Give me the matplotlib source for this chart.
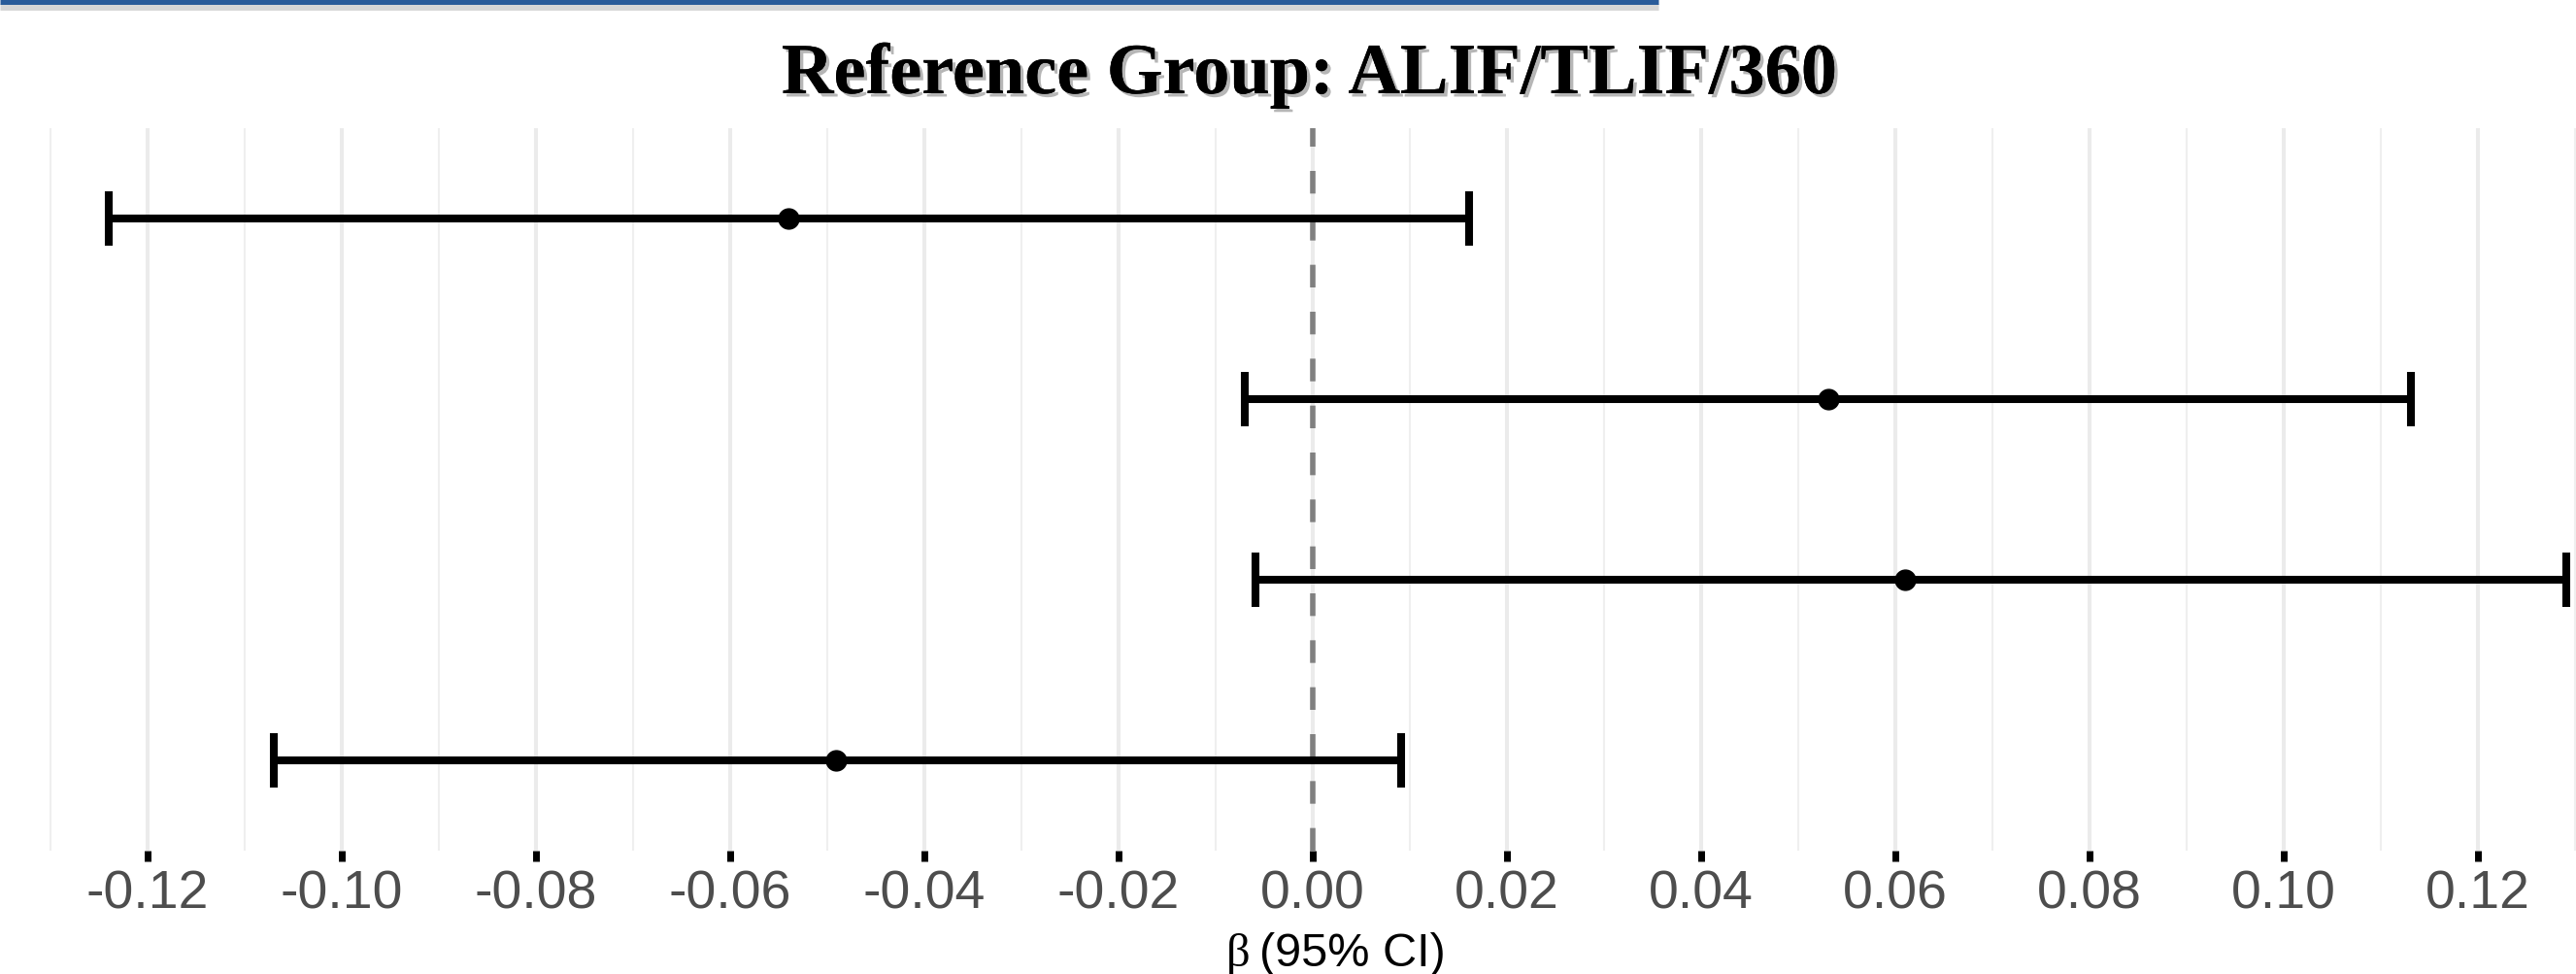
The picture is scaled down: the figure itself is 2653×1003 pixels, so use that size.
import matplotlib
matplotlib.use("Agg")
import matplotlib.pyplot as plt
import matplotlib.patheffects as pe
from matplotlib.lines import Line2D
import numpy as np

plt.rcParams['axes.unicode_minus'] = False

# ---- data (top row first) ----
rows = ["Row 1", "Row 2", "Row 3", "Row 4"]
estimates = [-0.0540, 0.0531, 0.0610, -0.0491]
lower_ci = [-0.1240, -0.0070, -0.0059, -0.1070]
upper_ci = [0.0161, 0.1131, 0.1291, 0.0091]
major_ticks = [-0.12, -0.10, -0.08, -0.06, -0.04, -0.02, 0.00,
               0.02, 0.04, 0.06, 0.08, 0.10, 0.12]
tick_labels = ["-0.12", "-0.10", "-0.08", "-0.06", "-0.04", "-0.02", "0.00",
               "0.02", "0.04", "0.06", "0.08", "0.10", "0.12"]
minor_ticks = [-0.13, -0.11, -0.09, -0.07, -0.05, -0.03, -0.01,
               0.01, 0.03, 0.05, 0.07, 0.09, 0.11, 0.13]
title = "Reference Group: ALIF/TLIF/360"

W, H = 2653, 1004
fig = plt.figure(figsize=(W / 100, H / 100), dpi=100)
fig.patch.set_facecolor("white")

top_px, bot_px = 133, 877
ax = fig.add_axes([0, 1 - bot_px / H, 1, (bot_px - top_px) / H])
ax.set_facecolor("white")
for s in ax.spines.values():
    s.set_visible(False)

x0_val = -0.1352
x1_val = x0_val + W / 10000.0
ax.set_xlim(x0_val, x1_val)
ax.set_ylim(0.5, 4.5)

n = len(rows)
ypos = np.arange(n, 0, -1)

# grid
ax.set_xticks(major_ticks)
ax.set_xticklabels(tick_labels)
ax.set_xticks(minor_ticks, minor=True)
ax.grid(True, which="major", axis="x", color="#EBEBEB", lw=2.9, zorder=0)
ax.grid(True, which="minor", axis="x", color="#EFEFEF", lw=1.5, zorder=0)
ax.set_axisbelow(True)
ax.set_yticks([])

ax.tick_params(axis="x", which="major", length=8, width=5, color="black",
               pad=5, labelsize=40, labelcolor="#4D4D4D")
ax.tick_params(axis="x", which="minor", length=0)
for lab in ax.get_xticklabels():
    lab.set_family("Liberation Sans")

# reference line at 0
ax.plot([0, 0], [0.5, 4.5], color="#808080", lw=4.0,
        dashes=(4.2, 4.5), zorder=1.5, solid_capstyle="butt",
        dash_capstyle="butt")

# error bars
est = np.array(estimates)
lo = np.array(lower_ci)
hi = np.array(upper_ci)
ax.errorbar(est, ypos, xerr=[est - lo, hi - est], fmt="o", color="black",
            ms=15, elinewidth=5.8, capsize=20, capthick=5.8, zorder=3)

# title with shadow
fig.text(1348 / W, 1 - 97 / H, title, ha="center", va="baseline",
         fontsize=53.5, fontweight="bold", family="Liberation Serif",
         path_effects=[pe.withSimplePatchShadow(offset=(2.5, -2.5),
                                                shadow_rgbFace="#7a7a7a",
                                                alpha=0.55),
                       pe.Normal()])

# x-axis title
fig.text(1263 / W, 1 - 995 / H, "β", ha="left", va="baseline",
         fontsize=35, family="Liberation Serif", color="black")
fig.text(1297 / W, 1 - 995 / H, "(95% CI)", ha="left", va="baseline",
         fontsize=35, family="Liberation Sans", color="black")

# partial blue frame line at top
fig.add_artist(Line2D([0, 1708 / W], [1 - 8 / H, 1 - 8 / H],
                      transform=fig.transFigure, color="#8a8a8a",
                      lw=5, alpha=0.35, solid_capstyle="butt"))
fig.add_artist(Line2D([0, 1708 / W], [1 - 2.5 / H, 1 - 2.5 / H],
                      transform=fig.transFigure, color="#2A5C9A",
                      lw=3.6, solid_capstyle="butt"))

fig.savefig("out.png", dpi=100, facecolor="white")
